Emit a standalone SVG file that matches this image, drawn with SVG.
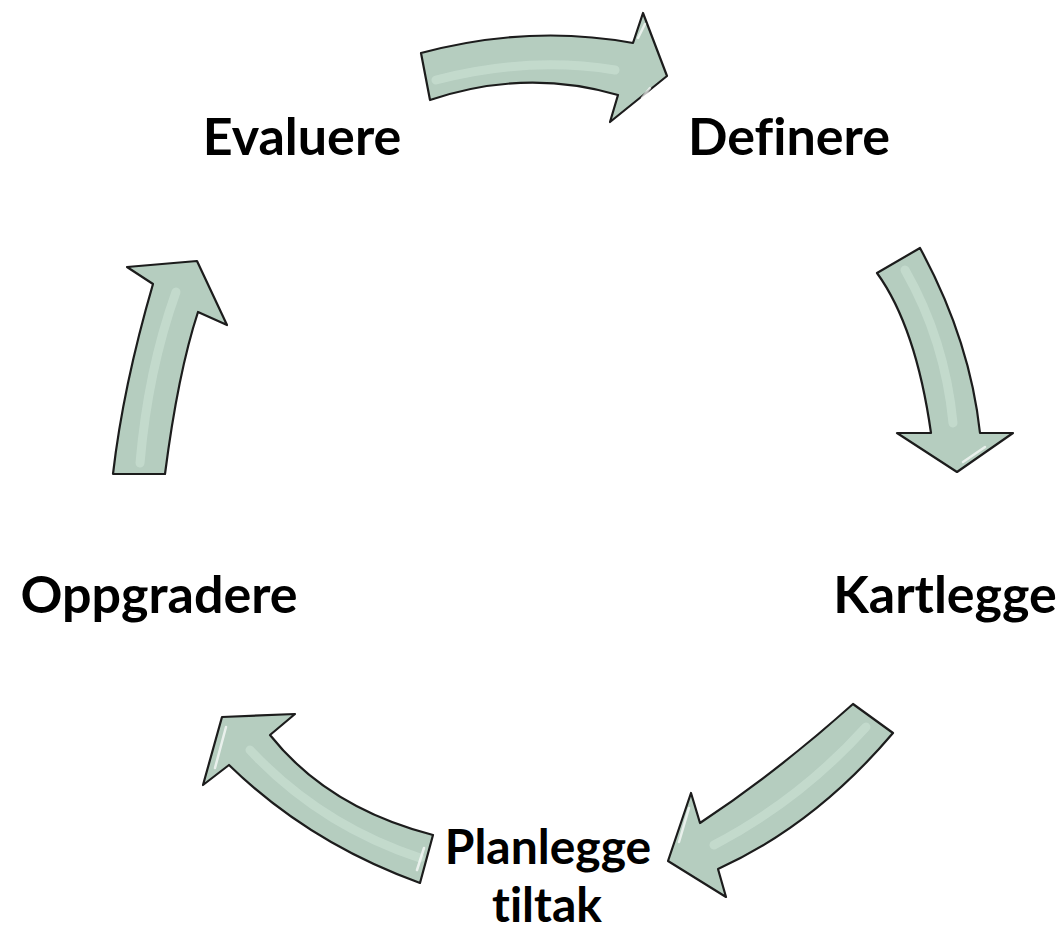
<svg xmlns="http://www.w3.org/2000/svg" width="1057" height="934" viewBox="0 0 1057 934">
<defs>
<style>
.arrow{fill:#b5cdbf;stroke:#1c1c1c;stroke-width:2.2;stroke-linejoin:round}
.band{fill:none;stroke:#cde3d6;stroke-width:9;stroke-linecap:round;opacity:0.6}
.glint{fill:none;stroke:#ffffff;stroke-width:2.5;stroke-linecap:round;opacity:0.7}
.lbl{font-family:Lato,"Open Sans","Liberation Sans",sans-serif;font-weight:bold;font-size:52px;fill:#000;text-anchor:middle;font-variant-ligatures:none;font-feature-settings:"liga" 0}
.sm{font-size:48px}
</style>
</defs>
<rect width="1057" height="934" fill="#ffffff"/>
<g id="connectors">
<g id="arrow-top">
<path class="arrow" d="M421,53 Q530,24 633,43 L643,13 L667,76 L610,122 L618,95 Q525,68 430,100 Z"/>
<path class="band" d="M436,80 Q528,56 615,70"/>
<path class="glint" d="M638,38 L645,24 M642,98 L650,88"/>
</g>
<g id="arrow-right">
<path class="arrow" d="M877,273 L920,248 Q970,340 980,433 L1013,433 L957,472 L897,433 L931,433 Q916,327 877,273 Z"/>
<path class="band" d="M905,270 Q945,340 953,423"/>
<path class="glint" d="M963,462 L985,447"/>
</g>
<g id="arrow-bottom-right">
<path class="arrow" d="M853,704 L893,733 Q815,825 718,869 L726,897 L668,861 L691,793 L700,823 Q777,772 853,704 Z"/>
<path class="band" d="M866,727 Q800,800 714,845"/>
<path class="glint" d="M689,808 L679,842"/>
</g>
<g id="arrow-bottom-left">
<path class="arrow" d="M433,835 L420,883 Q309,843 229,765 L203,785 L222,717 L295,714 L270,735 Q328,808 433,835 Z"/>
<path class="band" d="M420,858 Q320,825 250,750"/>
<path class="glint" d="M226,727 L215,768 M424,848 L417,870"/>
</g>
<g id="arrow-left">
<path class="arrow" d="M113,474 L165,474 Q178,373 198,312 L227,325 L197,261 L127,267 L153,284 Q123,387 113,474 Z"/>
<path class="band" d="M140,463 Q148,370 176,292"/>
</g>
</g>
<g id="node-evaluere"><text class="lbl" x="302" y="155">Evaluere</text></g>
<g id="node-definere"><text class="lbl" x="789" y="155">Definere</text></g>
<g id="node-kartlegge"><text class="lbl" x="945" y="613">Kartlegge</text></g>
<g id="node-oppgradere"><text class="lbl" x="159" y="613">Oppgradere</text></g>
<g id="node-planlegge"><text class="lbl sm"><tspan x="548" y="864">Planlegge</tspan><tspan x="547" y="922">tiltak</tspan></text></g>
</svg>
